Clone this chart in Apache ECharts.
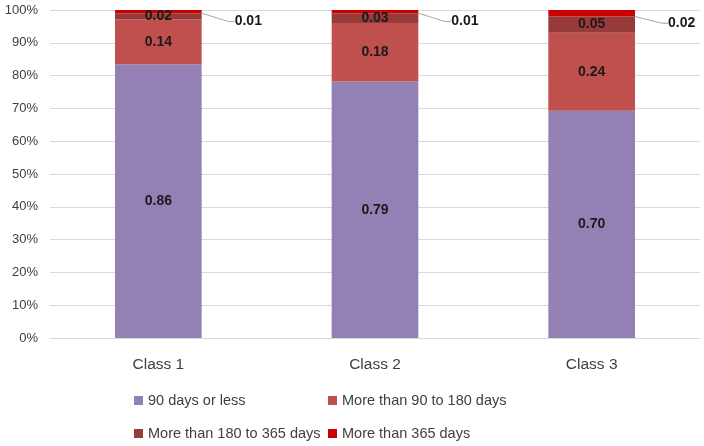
<!DOCTYPE html>
<html>
<head>
<meta charset="utf-8">
<script src="https://cdn.jsdelivr.net/npm/echarts@6/dist/echarts.min.js"></script>
<style>html,body{margin:0;padding:0;background:#fff}#c{width:704px;height:446px}</style>
</head>
<body>
<div id="c"></div>
<script>
var categories = ['Class 1', 'Class 2', 'Class 3'];
var seriesNames = ['90 days or less', 'More than 90 to 180 days', 'More than 180 to 365 days', 'More than 365 days'];
var s90 = [0.86, 0.79, 0.70];
var s180 = [0.14, 0.18, 0.24];
var s365 = [0.02, 0.03, 0.05];
var sOver = [0.01, 0.01, 0.02];
var yTicks = [0, 10, 20, 30, 40, 50, 60, 70, 80, 90, 100];

var colors = ['#9380b5', '#c0504d', '#973b3a', '#cc0000'];
var raw = [s90, s180, s365, sOver];
var totals = categories.map(function (_, i) { return s90[i] + s180[i] + s365[i] + sOver[i]; });
var FONT = '"Liberation Sans", Arial, sans-serif';

var series = raw.map(function (arr, k) {
  var s = {
    name: seriesNames[k],
    type: 'bar',
    stack: 'total',
    barWidth: '40%',
    itemStyle: { color: colors[k] },
    data: arr.map(function (v, i) { return { value: v / totals[i] * 100, raw: v }; }),
    label: {
      show: true,
      position: 'inside',
      fontFamily: FONT,
      fontSize: 14,
      fontWeight: 'bold',
      color: '#1a1a1a',
      formatter: function (p) { return p.data.raw.toFixed(2); }
    }
  };
  if (k === 3) {
    s.label.position = 'right';
    s.label.distance = 5;
    s.labelLayout = { dx: 28, dy: 10 };
    s.labelLine = { show: true, length2: 6, lineStyle: { color: '#a6a6a6', width: 1 } };
  }
  return s;
});

var legendPos = [[134, 393], [328, 393], [134, 426], [328, 426]];
var legends = seriesNames.map(function (n, k) {
  return {
    data: [n],
    left: legendPos[k][0],
    top: legendPos[k][1],
    itemWidth: 9,
    itemHeight: 9,
    icon: 'rect',
    padding: 0,
    textStyle: { fontFamily: FONT, fontSize: 14.5, color: '#404040' },
    selectedMode: false
  };
});

var chart = echarts.init(document.getElementById('c'), null, { renderer: 'canvas' });
chart.setOption({
  animation: false,
  color: colors,
  grid: { left: 50, right: 4, top: 10, bottom: 108, containLabel: false },
  legend: legends,
  xAxis: {
    type: 'category',
    data: categories,
    axisLine: { lineStyle: { color: '#d9d9d9', width: 1 } },
    axisTick: { show: false },
    axisLabel: { fontFamily: FONT, fontSize: 15.5, color: '#404040', margin: 19 }
  },
  yAxis: {
    type: 'value',
    min: yTicks[0],
    max: yTicks[yTicks.length - 1],
    interval: yTicks[1] - yTicks[0],
    axisLine: { show: false },
    axisTick: { show: false },
    splitLine: { lineStyle: { color: '#d9d9d9', width: 1 } },
    axisLabel: { fontFamily: FONT, fontSize: 13, color: '#404040', margin: 12, formatter: '{value}%' }
  },
  series: series
});
</script>
</body>
</html>
